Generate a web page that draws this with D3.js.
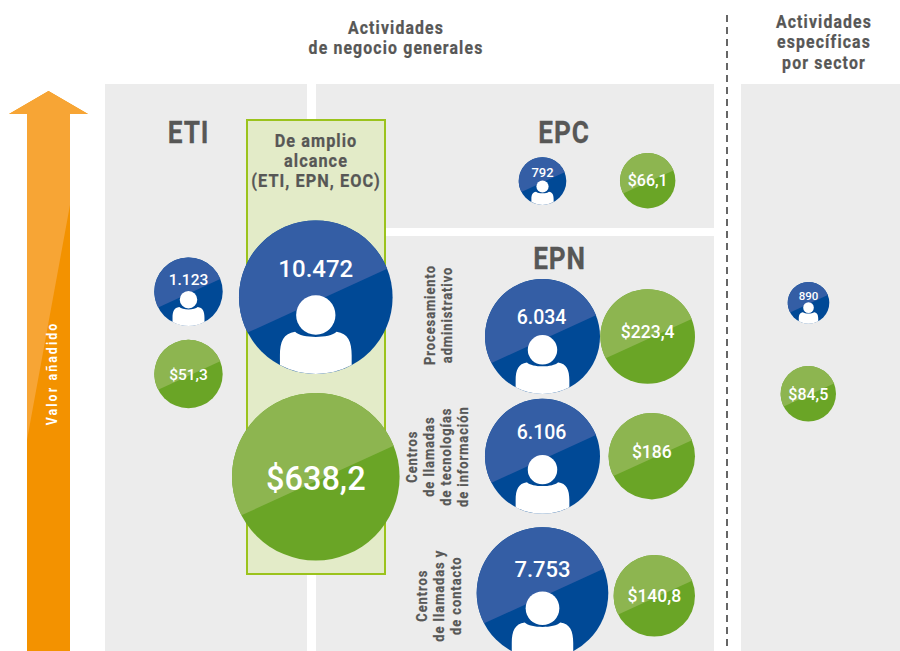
<!DOCTYPE html>
<html>
<head>
<meta charset="utf-8">
<script src="https://cdn.jsdelivr.net/npm/d3@7"></script>
<style>
  html, body { margin: 0; padding: 0; background: #fff; }
  svg { display: block; }
  .head { font-family: "Roboto", sans-serif; font-weight: 700; fill: #575756; stroke: #575756; stroke-width: 0.25px; text-anchor: middle; }
  .num { font-family: "Roboto", sans-serif; font-weight: 500; fill: #fff; text-anchor: middle; }
</style>
</head>
<body>
<div id="viz_container"></div>
<script>
// values
const segments = ["ETI", "Amplio", "EPC", "Proc", "CentrosTI", "Contacto", "Sector"];
const employees = [1123, 10472, 792, 6034, 6106, 7753, 890];
const revenue = [51.3, 638.2, 66.1, 223.4, 186, 140.8, 84.5];

// bubble layout, the source bubbles are placed by hand and are not strictly proportional
const empX = [188.5, 315.8, 542.5, 542.5, 542.5, 542.5, 808.5];
const empY = [291.7, 297.2, 181, 336.5, 456.3, 593, 302.8];
const empR = [34.2, 76.8, 23.8, 57.5, 57.5, 65.8, 20.8];
const empFont = [15.5, 24, 13, 19.5, 19.5, 22, 11.5];
const empBase = [-6.7, -20.5, -4, -13, -17, -16.3, -2.8];
const empShift = [0, 0, 0, -1, -1, 0, 0];
const revX = [188.5, 315.8, 647.7, 647.7, 651.8, 654.3, 808.3];
const revY = [374, 476.7, 180.7, 336.5, 456.2, 595.8, 393.8];
const revR = [34.2, 83.8, 27.7, 47.3, 43.2, 40.7, 27.7];
const revFont = [15.5, 32.5, 16, 17.5, 17.5, 17.5, 16];
const revBase = [5.5, 13.3, 5.3, 1.8, 2, 5.9, 6.2];

const width = 900;
const height = 651;

const svg = d3.select("#viz_container")
  .append("svg")
    .attr("width", width)
    .attr("height", height)
    .attr("viewBox", `0 0 ${width} ${height}`);

// scales from segment to layout
const ord = range => d3.scaleOrdinal().domain(segments).range(range);
const scales = {
  emp: {x: ord(empX), y: ord(empY), r: ord(empR), font: ord(empFont), base: ord(empBase), shift: ord(empShift)},
  rev: {x: ord(revX), y: ord(revY), r: ord(revR), font: ord(revFont), base: ord(revBase), shift: () => 0}
};

// numbers use the spanish format
const es = d3.formatLocale({decimal: ",", thousands: ".", grouping: [3], currency: ["$", ""]});
const fmtEmp = es.format(",d");
const fmtRev = es.format("$,.1~f");

// panels
const panels = [
  [105, 84, 202, 567],
  [316, 84, 398, 144],
  [316, 236, 398, 415],
  [741, 84, 159, 567]
];
svg.selectAll("rect.panel")
  .data(panels)
  .join("rect")
    .attr("class", "panel")
    .attr("x", d => d[0])
    .attr("y", d => d[1])
    .attr("width", d => d[2])
    .attr("height", d => d[3])
    .style("fill", "#ececec");

// box "de amplio alcance"
svg.append("rect")
    .attr("x", 247)
    .attr("y", 120)
    .attr("width", 138)
    .attr("height", 454)
    .style("fill", "#e3ebc8")
    .style("stroke", "#9bc31c")
    .style("stroke-width", 2);

// dashed divider
svg.append("line")
    .attr("x1", 727).attr("x2", 727)
    .attr("y1", 15).attr("y2", 651)
    .style("stroke", "#666")
    .style("stroke-width", 2)
    .style("stroke-dasharray", "7,5");

// arrow
const arrow = "M27,651 L27,114 L9,114 L48.5,91 L88,114 L70,114 L70,651 Z";
svg.append("path").attr("d", arrow).style("fill", "#f39200");
svg.append("path")
    .attr("d", "M27,440 L27,114 L9,114 L48.5,91 L88,114 L70,114 L70,205 Z")
    .style("fill", "#f7a535");

// text helpers, roboto squeezed sideways to get the condensed look of the source
function textLines(lines, x, y, size, step, spacing, squeeze) {
  lines.forEach((line, i) => {
    svg.append("text")
        .attr("class", "head")
        .attr("transform", `translate(${x},${y + i * step}) scale(${squeeze},1)`)
        .style("font-size", size + "px")
        .style("letter-spacing", spacing + "px")
        .text(line);
  });
}
function rotatedLines(lines, baselines, cy, size, spacing, squeeze) {
  lines.forEach((line, i) => {
    svg.append("text")
        .attr("class", "head")
        .attr("transform", `translate(${baselines[i]},${cy}) rotate(-90) scale(${squeeze},1)`)
        .style("font-size", size + "px")
        .style("letter-spacing", spacing + "px")
        .text(line);
  });
}

textLines(["Actividades", "de negocio generales"], 396, 34, 18, 20, 1.3, 0.88);
textLines(["Actividades", "específicas", "por sector"], 824, 28, 18, 20.3, 1.3, 0.88);
textLines(["ETI"], 188.5, 143, 32, 0, 1, 0.82);
textLines(["EPC"], 564, 143, 32, 0, 1, 0.82);
textLines(["EPN"], 559.5, 268.5, 32, 0, 1, 0.82);
textLines(["De amplio", "alcance", "(ETI, EPN, EOC)"], 316, 147, 18.5, 20, 1.2, 0.88);

rotatedLines(["Procesamiento", "administrativo"], [435, 451.7], 315, 15, 1.1, 0.86);
rotatedLines(["Centros", "de llamadas", "de tecnologías", "de información"], [417.3, 434.3, 451, 467.7], 456.7, 15, 1.1, 0.86);
rotatedLines(["Centros", "de llamadas y", "de contacto"], [426.7, 444, 461], 595.7, 15, 1.1, 0.86);

svg.append("text")
    .attr("class", "head")
    .attr("transform", "translate(56.5,373.5) rotate(-90) scale(0.88,1)")
    .style("font-size", "14px")
    .style("letter-spacing", "2.4px")
    .style("fill", "#fff")
    .style("stroke", "none")
    .text("Valor añadido");

// lighter upper part of a bubble, cut by a slanted chord
function shine(r) {
  const a = 24.6 * Math.PI / 180;
  const off = 0.05 * r;
  const half = Math.sqrt(r * r - off * off);
  const mx = off * Math.sin(a), my = off * Math.cos(a);
  const x0 = mx - half * Math.cos(a), y0 = my + half * Math.sin(a);
  const x1 = mx + half * Math.cos(a), y1 = my - half * Math.sin(a);
  return `M${x0},${y0} A${r},${r} 0 1 1 ${x1},${y1} Z`;
}

// person icon, proportional to the bubble
function bodyPath(r) {
  const w = 0.467 * r;
  const foot = Math.sqrt(r * r - w * w);
  return `M${-w},${foot}`
    + ` L${-w},${0.76 * r}`
    + ` C${-w},${0.58 * r} ${-0.42 * r},${0.47 * r} ${-0.27 * r},${0.45 * r}`
    + ` C${-0.18 * r},${0.54 * r} ${0.18 * r},${0.54 * r} ${0.27 * r},${0.45 * r}`
    + ` C${0.42 * r},${0.47 * r} ${w},${0.58 * r} ${w},${0.76 * r}`
    + ` L${w},${foot}`
    + ` A${r},${r} 0 0 1 ${-w},${foot} Z`;
}

function bubbles(kind, values, dark, light, fmt) {
  const s = scales[kind];
  const g = svg.selectAll(`g.${kind}`)
    .data(segments.map((key, i) => ({key, value: values[i]})))
    .join("g")
      .attr("class", kind)
      .attr("transform", d => `translate(${s.x(d.key)},${s.y(d.key)})`);

  g.append("circle")
      .attr("r", d => s.r(d.key))
      .style("fill", dark);
  g.append("path")
      .attr("d", d => shine(s.r(d.key)))
      .style("fill", light);

  if (kind === "emp") {
    g.append("path")
        .attr("d", d => bodyPath(s.r(d.key)))
        .style("fill", "#fff");
    g.append("circle")
        .attr("cy", d => 0.232 * s.r(d.key))
        .attr("r", d => 0.256 * s.r(d.key))
        .style("fill", "#fff");
  }

  g.append("text")
      .attr("class", "num")
      .attr("x", d => s.shift(d.key))
      .attr("y", d => s.base(d.key))
      .style("font-size", d => s.font(d.key) + "px")
      .text(d => fmt(d.value));
}

bubbles("emp", employees, "#004996", "#345ea5", fmtEmp);
bubbles("rev", revenue, "#6aa526", "#8db550", fmtRev);
</script>
</body>
</html>
